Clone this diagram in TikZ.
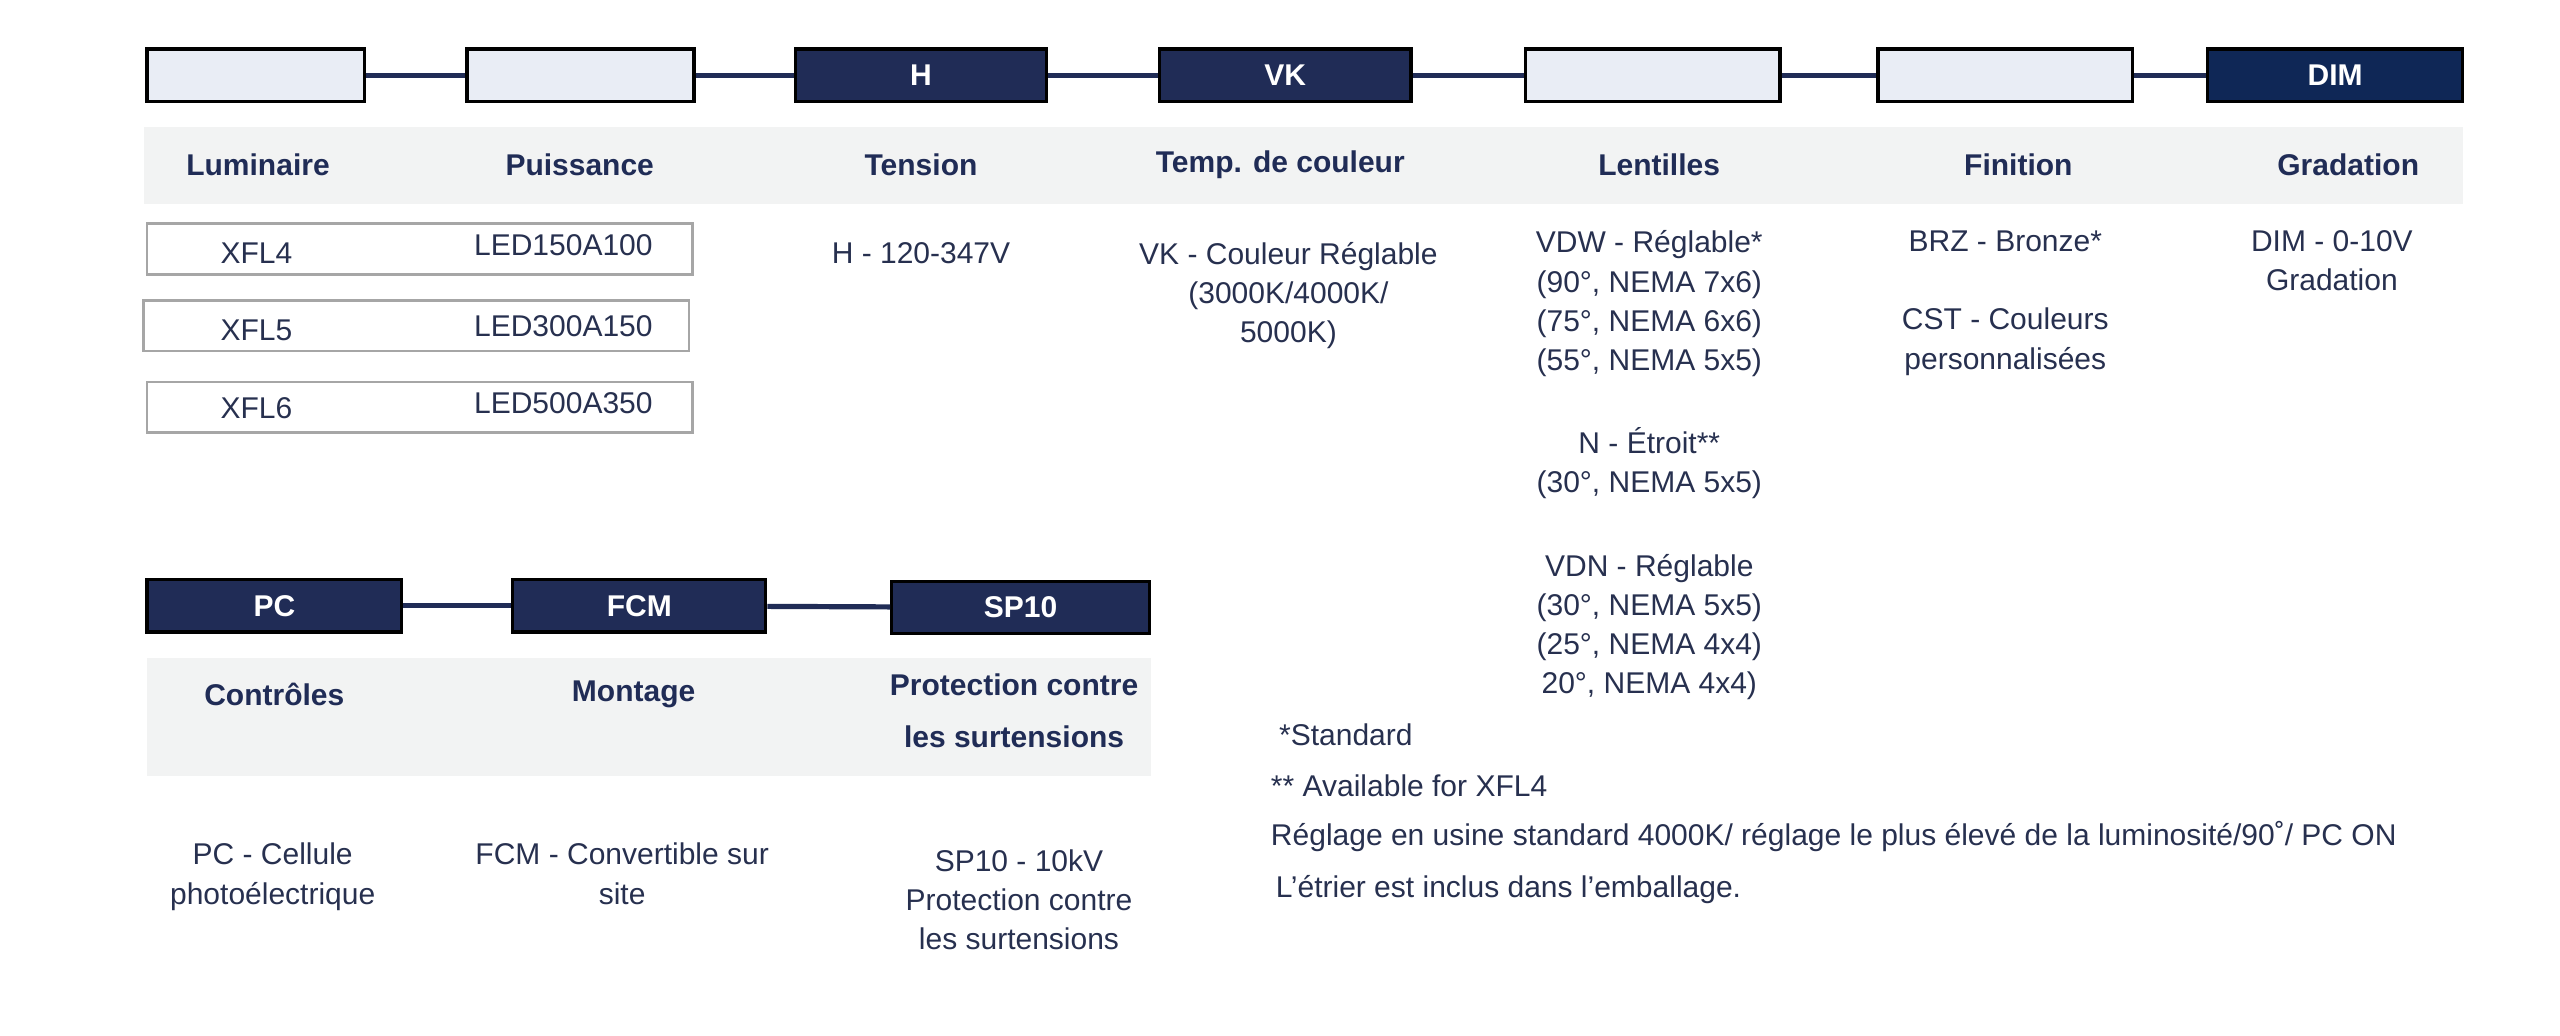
\documentclass[tikz,border=0pt]{standalone}
\usepackage{fontspec}
\setmainfont{Liberation Sans}
\definecolor{navy}{HTML}{202C56}
\definecolor{navyb}{HTML}{0F2756}
\definecolor{lite}{HTML}{E9EDF5}
\definecolor{band}{HTML}{F2F3F3}
\definecolor{txt}{HTML}{27304F}
\begin{document}
\begin{tikzpicture}[x=0.8165pt,y=-0.8165pt,
 lbox/.style={draw=black,line width=1.6pt,fill=lite,minimum width=#1*0.8165pt,minimum height=32*0.8165pt,inner sep=0pt},
 dbox/.style={draw=black,line width=1.6pt,fill=navy,minimum width=#1*0.8165pt,minimum height=32*0.8165pt,inner sep=0pt,text=white,font=\fontsize{15}{18}\selectfont\bfseries},
 row/.style={draw=black!35,line width=1.3pt,minimum width=334*0.8165pt,minimum height=31*0.8165pt,inner sep=0pt},
 con/.style={draw=navy,line width=2.6pt},
 hd/.style={text=navy,font=\fontsize{15}{19.6}\selectfont\bfseries,align=center},
 bt/.style={text=txt,font=\fontsize{15}{19.6}\selectfont,align=center},
 nt/.style={text=txt,font=\fontsize{15}{19.6}\selectfont,anchor=west}]
\useasboundingbox (0,0) rectangle (1567.7,634.4);
% top chain
\node[lbox=133] (b1) at (156.5,46) {};
\node[lbox=139] (b2) at (355.5,46) {};
\node[dbox=154] (b3) at (564,46) {H};
\node[dbox=154] (b4) at (787,46) {VK};
\node[lbox=156] (b5) at (1012,46) {};
\node[lbox=156] (b6) at (1228,46) {};
\node[dbox=156,fill=navyb] (b7) at (1430,46) {DIM};
\draw[con] (b1)--(b2); \draw[con] (b2)--(b3); \draw[con] (b3)--(b4);
\draw[con] (b4)--(b5); \draw[con] (b5)--(b6); \draw[con] (b6)--(b7);
\fill[band] (88,78) rectangle (1508,125);
\node[hd] (h1) at (158,101) {Luminaire};
\node[hd] (h2) at (355,101) {Puissance};
\node[hd] (h3) at (564,101) {Tension};
\node[hd] (h4) at (784,101) {Temp. de couleur};
\node[hd] (h5) at (1016,101) {Lentilles};
\node[hd] (h6) at (1236,101) {Finition};
\node[hd] (h7) at (1438,101) {Gradation};
% rows
\node[row] (r1) at (257,152.5) {};
\node[row] (r2) at (255,199.5) {};
\node[row] (r3) at (257,249.5) {};
\node[bt] (x4) at (157,155) {XFL4};
\node[bt] (x5) at (157,202) {XFL5};
\node[bt] (x6) at (157,250) {XFL6};
\node[bt] (l1) at (345,150) {LED150A100};
\node[bt] (l2) at (345,200) {LED300A150};
\node[bt] (l3) at (345,247) {LED500A350};
\node[bt] (t3) at (564,155) {H - 120-347V};
\node[bt,anchor=north] (t4) at (789,144) {VK - Couleur Réglable\\(3000K/4000K/\\5000K)};
\node[bt,anchor=north] (t5) at (1010,137) {VDW - Réglable*\\(90°, NEMA 7x6)\\(75°, NEMA 6x6)\\(55°, NEMA 5x5)\\[22pt]N - Étroit**\\(30°, NEMA 5x5)\\[22pt]VDN - Réglable\\(30°, NEMA 5x5)\\(25°, NEMA 4x4)\\20°, NEMA 4x4)};
\node[bt,anchor=north] (t6) at (1228,137) {BRZ - Bronze*\\[19.6pt]CST - Couleurs\\personnalisées};
\node[bt,anchor=north] (t7) at (1428,137) {DIM - 0-10V\\Gradation};
% bottom chain
\node[dbox=156] (p1) at (168,371) {PC};
\node[dbox=155] (p2) at (391.5,371) {FCM};
\node[dbox=158] (p3) at (625,372) {SP10};
\draw[con] (p1)--(p2); \draw[con] (p2)--(p3);
\fill[band] (90,403) rectangle (705,475);
\node[hd] (g1) at (168,425) {Contrôles};
\node[hd] (g2) at (388,425) {Montage};
\node[hd,font=\fontsize{15}{26}\selectfont\bfseries] (g3) at (621,435) {Protection contre\\les surtensions};
\node[bt,anchor=north] (s1) at (167,512) {PC - Cellule\\photoélectrique};
\node[bt,anchor=north] (s2) at (381,512) {FCM - Convertible sur\\site};
\node[bt,anchor=north] (s3) at (624,516) {SP10 - 10kV\\Protection contre\\les surtensions};
\node[nt] (n1) at (779,450) {*Standard};
\node[nt] (n2) at (774,481) {** Available for XFL4};
\node[nt] (n3) at (774,512) {Réglage en usine standard 4000K/ réglage le plus élevé de la luminosité/90˚/ PC ON};
\node[nt] (n4) at (777,545) {L'étrier est inclus dans l'emballage.};
\end{tikzpicture}
\end{document}
